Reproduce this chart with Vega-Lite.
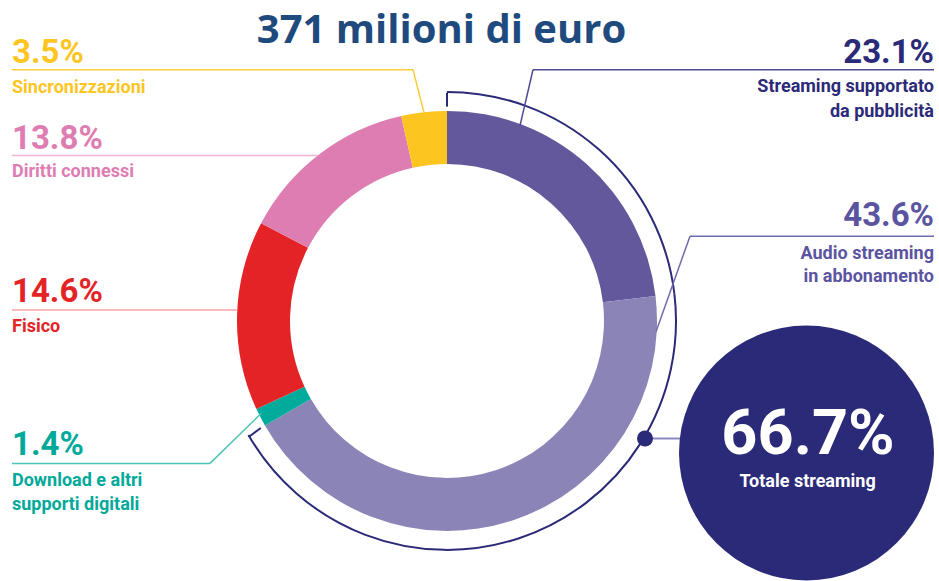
{
  "$schema": "https://vega.github.io/schema/vega-lite/v6.json",
  "width": 939,
  "height": 581,
  "autosize": {"type": "fit", "contains": "padding"},
  "padding": 0,
  "background": "white",
  "config": {"view": {"stroke": null}, "axis": {"disable": true}, "legend": {"disable": true}, "text": {"font": "Roboto", "fontWeight": "bold"}},
  "datasets": {
    "shares": [
      {"ord": 1, "categoria": "Streaming supportato da pubblicità", "quota": 23.1, "pct": "23.1%", "etichetta": ["Streaming supportato", "da pubblicità"]},
      {"ord": 2, "categoria": "Audio streaming in abbonamento", "quota": 43.6, "pct": "43.6%", "etichetta": ["Audio streaming", "in abbonamento"]},
      {"ord": 3, "categoria": "Download e altri supporti digitali", "quota": 1.4, "pct": "1.4%", "etichetta": ["Download e altri", "supporti digitali"]},
      {"ord": 4, "categoria": "Fisico", "quota": 14.6, "pct": "14.6%", "etichetta": ["Fisico"]},
      {"ord": 5, "categoria": "Diritti connessi", "quota": 13.8, "pct": "13.8%", "etichetta": ["Diritti connessi"]},
      {"ord": 6, "categoria": "Sincronizzazioni", "quota": 3.5, "pct": "3.5%", "etichetta": ["Sincronizzazioni"]}
    ],
    "totale": [{"etichetta": "Totale streaming", "quota": 66.7, "pct": "66.7%"}],
    "titolo": [{"testo": "371 milioni di euro"}]
  },
  "data": {"name": "titolo"},
  "layer": [
    {
      "data": {"name": "shares"},
      "mark": {"type": "arc", "innerRadius": 157, "outerRadius": 210},
      "encoding": {
        "theta": {"field": "quota", "type": "quantitative", "stack": true, "scale": {"domain": [0, 100]}},
        "order": {"field": "ord", "type": "quantitative"},
        "color": {
          "field": "categoria", "type": "nominal", "legend": null,
          "scale": {
            "domain": ["Streaming supportato da pubblicità", "Audio streaming in abbonamento", "Download e altri supporti digitali", "Fisico", "Diritti connessi", "Sincronizzazioni"],
            "range": ["#62589B", "#8A84B7", "#00AB9C", "#E32326", "#DE7DB1", "#FCC51F"]
          }
        },
        "x": {"datum": 0, "type": "quantitative", "scale": {"domain": [-21.2857, 23.4286], "nice": false, "zero": false}},
        "y": {"datum": 0, "type": "quantitative", "scale": {"domain": [-12.3333, 15.3333], "nice": false, "zero": false}}
      }
    },
    {
      "data": {"name": "shares"},
      "transform": [{"filter": "datum.ord <= 2"}],
      "mark": {"type": "arc", "innerRadius": 229, "outerRadius": 229, "filled": false, "stroke": "#2A2A78", "strokeWidth": 2},
      "encoding": {
        "theta": {"field": "quota", "type": "quantitative", "stack": true},
        "order": {"field": "ord", "type": "quantitative"},
        "x": {"datum": 0, "type": "quantitative"},
        "y": {"datum": 0, "type": "quantitative"}
      }
    },
    {
      "mark": {"type": "rule", "color": "#2A2A78", "strokeWidth": 2},
      "encoding": {"x": {"datum": 0, "type": "quantitative"}, "x2": {"datum": 0}, "y": {"datum": 10.905, "type": "quantitative"}, "y2": {"datum": 10.238}}
    },
    {
      "mark": {"type": "rule", "color": "#2A2A78", "strokeWidth": 2},
      "encoding": {"x": {"datum": -9.443, "type": "quantitative"}, "x2": {"datum": -8.867}, "y": {"datum": -5.548, "type": "quantitative"}, "y2": {"datum": -5.119}}
    },
    {
      "mark": {"type": "rule", "color": "#FCCB3A", "strokeWidth": 1.5},
      "encoding": {"x": {"datum": -20.714, "type": "quantitative"}, "x2": {"datum": -1.619}, "y": {"datum": 12.0, "type": "quantitative"}, "y2": {"datum": 12.0}}
    },
    {
      "mark": {"type": "rule", "color": "#FCCB3A", "strokeWidth": 1.5},
      "encoding": {"x": {"datum": -1.619, "type": "quantitative"}, "x2": {"datum": -1.095}, "y": {"datum": 12.0, "type": "quantitative"}, "y2": {"datum": 9.952}}
    },
    {
      "mark": {"type": "rule", "color": "#F0B3D3", "strokeWidth": 1.5},
      "encoding": {"x": {"datum": -20.714, "type": "quantitative"}, "x2": {"datum": -6.143}, "y": {"datum": 7.905, "type": "quantitative"}, "y2": {"datum": 7.905}}
    },
    {
      "mark": {"type": "rule", "color": "#F5A5A8", "strokeWidth": 1.5},
      "encoding": {"x": {"datum": -20.714, "type": "quantitative"}, "x2": {"datum": -10.0}, "y": {"datum": 0.524, "type": "quantitative"}, "y2": {"datum": 0.524}}
    },
    {
      "mark": {"type": "rule", "color": "#4FC4B6", "strokeWidth": 1.5},
      "encoding": {"x": {"datum": -20.714, "type": "quantitative"}, "x2": {"datum": -11.286}, "y": {"datum": -6.81, "type": "quantitative"}, "y2": {"datum": -6.81}}
    },
    {
      "mark": {"type": "rule", "color": "#4FC4B6", "strokeWidth": 1.5},
      "encoding": {"x": {"datum": -11.286, "type": "quantitative"}, "x2": {"datum": -8.857}, "y": {"datum": -6.81, "type": "quantitative"}, "y2": {"datum": -4.429}}
    },
    {
      "mark": {"type": "rule", "color": "#4E4A98", "strokeWidth": 1.5},
      "encoding": {"x": {"datum": 23.19, "type": "quantitative"}, "x2": {"datum": 4.095}, "y": {"datum": 12.0, "type": "quantitative"}, "y2": {"datum": 12.0}}
    },
    {
      "mark": {"type": "rule", "color": "#4E4A98", "strokeWidth": 1.5},
      "encoding": {"x": {"datum": 4.095, "type": "quantitative"}, "x2": {"datum": 3.476}, "y": {"datum": 12.0, "type": "quantitative"}, "y2": {"datum": 9.333}}
    },
    {
      "mark": {"type": "rule", "color": "#6F6AAE", "strokeWidth": 1.5},
      "encoding": {"x": {"datum": 23.19, "type": "quantitative"}, "x2": {"datum": 11.571}, "y": {"datum": 4.048, "type": "quantitative"}, "y2": {"datum": 4.048}}
    },
    {
      "mark": {"type": "rule", "color": "#6F6AAE", "strokeWidth": 1.5},
      "encoding": {"x": {"datum": 11.571, "type": "quantitative"}, "x2": {"datum": 9.952}, "y": {"datum": 4.048, "type": "quantitative"}, "y2": {"datum": -0.524}}
    },
    {
      "mark": {"type": "rule", "color": "#8C89BF", "strokeWidth": 2},
      "encoding": {"x": {"datum": 9.429, "type": "quantitative"}, "x2": {"datum": 11.095}, "y": {"datum": -5.619, "type": "quantitative"}, "y2": {"datum": -5.619}}
    },
    {
      "data": {"name": "totale"},
      "mark": {"type": "point", "shape": "circle", "filled": true, "opacity": 1, "size": 256, "color": "#2A2A78"},
      "encoding": {"x": {"datum": 9.429, "type": "quantitative"}, "y": {"datum": -5.619, "type": "quantitative"}}
    },
    {
      "data": {"name": "totale"},
      "mark": {"type": "point", "shape": "circle", "filled": true, "opacity": 1, "size": 65025, "color": "#2A2A78"},
      "encoding": {"x": {"datum": 17.119, "type": "quantitative"}, "y": {"datum": -6.31, "type": "quantitative"}}
    },
    {
      "data": {"name": "totale"},
      "mark": {"type": "text", "align": "center", "baseline": "alphabetic", "fontSize": 63, "color": "white"},
      "encoding": {"text": {"field": "pct"}, "x": {"datum": 17.19, "type": "quantitative"}, "y": {"datum": -6.381, "type": "quantitative"}}
    },
    {
      "data": {"name": "totale"},
      "mark": {"type": "text", "align": "center", "baseline": "alphabetic", "fontSize": 18, "color": "white"},
      "encoding": {"text": {"field": "etichetta"}, "x": {"datum": 17.17, "type": "quantitative"}, "y": {"datum": -7.952, "type": "quantitative"}}
    },
    {
      "mark": {"type": "text", "align": "center", "baseline": "alphabetic", "font": "Open Sans", "fontWeight": "bold", "fontSize": 40, "color": "#1F4A7E"},
      "encoding": {"text": {"field": "testo"}, "x": {"datum": -0.262, "type": "quantitative"}, "y": {"datum": 13.286, "type": "quantitative"}}
    },
    {
      "data": {"name": "shares"},
      "transform": [{"filter": "datum.ord === 6"}],
      "mark": {"type": "text", "align": "left", "baseline": "alphabetic", "fontSize": 33, "color": "#FCC51F"},
      "encoding": {"text": {"field": "pct"}, "x": {"datum": -20.714, "type": "quantitative"}, "y": {"datum": 12.333, "type": "quantitative"}}
    },
    {
      "data": {"name": "shares"},
      "transform": [{"filter": "datum.ord === 6"}],
      "mark": {"type": "text", "align": "left", "baseline": "alphabetic", "fontSize": 18, "lineHeight": 23.4, "color": "#FCC51F"},
      "encoding": {"text": {"field": "etichetta"}, "x": {"datum": -20.714, "type": "quantitative"}, "y": {"datum": 10.905, "type": "quantitative"}}
    },
    {
      "data": {"name": "shares"},
      "transform": [{"filter": "datum.ord === 5"}],
      "mark": {"type": "text", "align": "left", "baseline": "alphabetic", "fontSize": 33, "color": "#DE7DB1"},
      "encoding": {"text": {"field": "pct"}, "x": {"datum": -20.714, "type": "quantitative"}, "y": {"datum": 8.19, "type": "quantitative"}}
    },
    {
      "data": {"name": "shares"},
      "transform": [{"filter": "datum.ord === 5"}],
      "mark": {"type": "text", "align": "left", "baseline": "alphabetic", "fontSize": 18, "lineHeight": 23.4, "color": "#DE7DB1"},
      "encoding": {"text": {"field": "etichetta"}, "x": {"datum": -20.714, "type": "quantitative"}, "y": {"datum": 6.857, "type": "quantitative"}}
    },
    {
      "data": {"name": "shares"},
      "transform": [{"filter": "datum.ord === 4"}],
      "mark": {"type": "text", "align": "left", "baseline": "alphabetic", "fontSize": 33, "color": "#E32326"},
      "encoding": {"text": {"field": "pct"}, "x": {"datum": -20.714, "type": "quantitative"}, "y": {"datum": 0.905, "type": "quantitative"}}
    },
    {
      "data": {"name": "shares"},
      "transform": [{"filter": "datum.ord === 4"}],
      "mark": {"type": "text", "align": "left", "baseline": "alphabetic", "fontSize": 18, "lineHeight": 23.4, "color": "#E32326"},
      "encoding": {"text": {"field": "etichetta"}, "x": {"datum": -20.714, "type": "quantitative"}, "y": {"datum": -0.524, "type": "quantitative"}}
    },
    {
      "data": {"name": "shares"},
      "transform": [{"filter": "datum.ord === 3"}],
      "mark": {"type": "text", "align": "left", "baseline": "alphabetic", "fontSize": 33, "color": "#00A99A"},
      "encoding": {"text": {"field": "pct"}, "x": {"datum": -20.714, "type": "quantitative"}, "y": {"datum": -6.429, "type": "quantitative"}}
    },
    {
      "data": {"name": "shares"},
      "transform": [{"filter": "datum.ord === 3"}],
      "mark": {"type": "text", "align": "left", "baseline": "alphabetic", "fontSize": 18, "lineHeight": 23.4, "color": "#00A99A"},
      "encoding": {"text": {"field": "etichetta"}, "x": {"datum": -20.714, "type": "quantitative"}, "y": {"datum": -7.905, "type": "quantitative"}}
    },
    {
      "data": {"name": "shares"},
      "transform": [{"filter": "datum.ord === 1"}],
      "mark": {"type": "text", "align": "right", "baseline": "alphabetic", "fontSize": 33, "color": "#2B2A78"},
      "encoding": {"text": {"field": "pct"}, "x": {"datum": 23.19, "type": "quantitative"}, "y": {"datum": 12.333, "type": "quantitative"}}
    },
    {
      "data": {"name": "shares"},
      "transform": [{"filter": "datum.ord === 1"}],
      "mark": {"type": "text", "align": "right", "baseline": "alphabetic", "fontSize": 18, "lineHeight": 25, "color": "#2B2A78"},
      "encoding": {"text": {"field": "etichetta"}, "x": {"datum": 23.19, "type": "quantitative"}, "y": {"datum": 10.952, "type": "quantitative"}}
    },
    {
      "data": {"name": "shares"},
      "transform": [{"filter": "datum.ord === 2"}],
      "mark": {"type": "text", "align": "right", "baseline": "alphabetic", "fontSize": 33, "color": "#5B54A0"},
      "encoding": {"text": {"field": "pct"}, "x": {"datum": 23.19, "type": "quantitative"}, "y": {"datum": 4.524, "type": "quantitative"}}
    },
    {
      "data": {"name": "shares"},
      "transform": [{"filter": "datum.ord === 2"}],
      "mark": {"type": "text", "align": "right", "baseline": "alphabetic", "fontSize": 18, "lineHeight": 23.3, "color": "#5B54A0"},
      "encoding": {"text": {"field": "etichetta"}, "x": {"datum": 23.19, "type": "quantitative"}, "y": {"datum": 2.952, "type": "quantitative"}}
    }
  ]
}
